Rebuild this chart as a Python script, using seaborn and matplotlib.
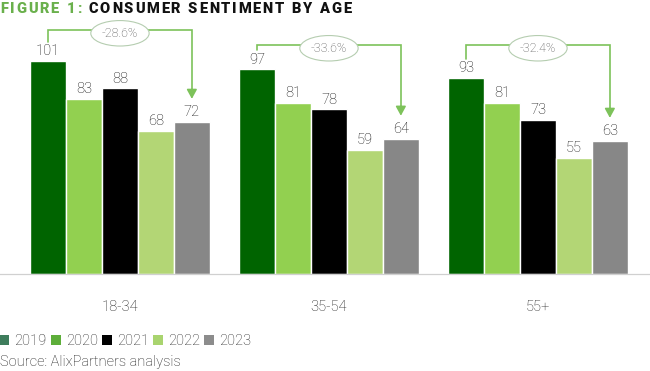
import matplotlib
matplotlib.use("Agg")
import matplotlib.pyplot as plt
from matplotlib.patches import Patch
import pandas as pd
import seaborn as sns

# ---- data ----
age_groups = ["18-34", "35-54", "55+"]
years = ["2019", "2020", "2021", "2022", "2023"]
val_2019 = [101, 97, 93]
val_2020 = [83, 81, 81]
val_2021 = [88, 78, 73]
val_2022 = [68, 59, 55]
val_2023 = [72, 64, 63]
change_labels = ["-28.6%", "-33.6%", "-32.4%"]

bar_colors = ["#006400", "#92D050", "#000000", "#B3D675", "#878787"]
legend_colors = ["#3E7D5C", "#5DAE3A", "#000000", "#A9D46F", "#8C8C8C"]
line_green = "#7DC25A"

rows = []
for yr, vals in zip(years, [val_2019, val_2020, val_2021, val_2022, val_2023]):
    for grp, v in zip(age_groups, vals):
        rows.append({"age": grp, "year": yr, "value": v})
df = pd.DataFrame(rows)

sns.set_style("white")
plt.rcParams["font.family"] = ["Roboto", "DejaVu Sans"]

fig = plt.figure(figsize=(6.5, 3.71), dpi=100)
ax = fig.add_axes([0.0, 0.2615, 1.0, 0.6846])

sns.barplot(data=df, x="age", y="value", hue="year", palette=bar_colors,
            width=0.86, gap=0, saturation=1, legend=False, ax=ax)

ax.set_xlim(-0.574, 2.536)
ax.set_ylim(0, 120.4)
ax.set_xlabel("")
ax.set_ylabel("")
ax.set_yticks([])
for s in ["top", "left", "right"]:
    ax.spines[s].set_visible(False)
ax.spines["bottom"].set_color("#D0D0D0")
ax.spines["bottom"].set_linewidth(0.9)
ax.tick_params(axis="x", length=0, pad=19, labelsize=10.5, labelcolor="#1A1A1A")
for lbl in ax.get_xticklabels():
    lbl.set_fontweight("light")

# value labels
for cont in ax.containers:
    ax.bar_label(cont, fmt="%d", padding=2, fontsize=10.5, fontweight="light",
                 color="#111111")

# brackets with percentage change
first = ax.containers[0]
last = ax.containers[-1]
bracket_top = [115.6, 108.5, 108.5]
for i in range(len(age_groups)):
    b0 = first[i]
    b1 = last[i]
    x0 = b0.get_x() + b0.get_width() / 2
    x1 = b1.get_x() + b1.get_width() / 2
    top = bracket_top[i]
    y0 = b0.get_height() + 9
    tip = b1.get_height() + 11
    ax.plot([x0, x0, x1, x1], [y0, top, top, tip + 3], color=line_green,
            lw=1.2, solid_joinstyle="miter", clip_on=False)
    ax.annotate("", xy=(x1, tip), xytext=(x1, tip + 4.5),
                arrowprops=dict(arrowstyle="-|>,head_length=0.55,head_width=0.3",
                                color=line_green, lw=1.2, shrinkA=0, shrinkB=0),
                annotation_clip=False)
    ax.text((x0 + x1) / 2, top - 1.5, change_labels[i], ha="center", va="center",
            fontsize=9, fontweight="light", color="#555555",
            bbox=dict(boxstyle="ellipse,pad=0.2", fc="white", ec="#B5CDB0", lw=0.8),
            clip_on=False)

# title with letter spacing
renderer = fig.canvas.get_renderer()
def spaced_text(x, y, s, color, spacing):
    for ch in s:
        t = fig.text(x, y, ch, fontsize=10.5, fontweight="heavy", color=color,
                     va="center", ha="left")
        if ch == " ":
            w = 4.0
        else:
            w = t.get_window_extent(renderer).width
        x += (w + spacing) / fig.bbox.width
    return x

xpos = spaced_text(0.0, 1 - 9 / 371, "FIGURE 1: ", "#6AB04C", 1.8)
spaced_text(xpos, 1 - 9 / 371, "CONSUMER SENTIMENT BY AGE", "#111111", 1.8)

# legend
handles = [Patch(facecolor=c, edgecolor="none") for c in legend_colors]
fig.legend(handles, years, loc="center left", bbox_to_anchor=(0.0, 1 - 341 / 371),
           ncol=5, frameon=False, handlelength=0.65, handleheight=0.65,
           handletextpad=0.35, columnspacing=0.3, borderaxespad=0, borderpad=0,
           prop={"weight": "light", "size": 10.5})
fig.text(0.0, 1 - 362 / 371, "Source: AlixPartners analysis", fontsize=10.5,
         fontweight="light", color="#1A1A1A", va="center", ha="left")

fig.savefig("out.png", dpi=100)
